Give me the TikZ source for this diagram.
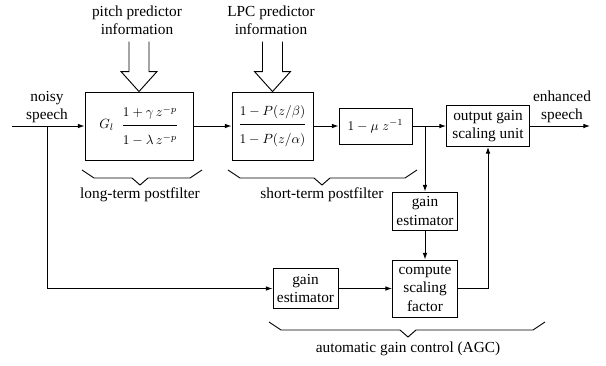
\documentclass[tikz,border=0pt]{standalone}
\usepackage{amsmath}
\usepackage{fontspec}
\setmainfont{Liberation Serif}
\usetikzlibrary{arrows.meta,calc}
\tikzset{node distance=2.0cm, auto,
  block/.style={draw, line width=0.7pt, inner sep=0pt, align=center,
    font=\fontsize{11.5}{13.8}\selectfont},
  sig/.style={-{Latex[length=5pt,width=3.5pt]}, line width=0.7pt},
  lbl/.style={align=center, font=\fontsize{11.5}{13.8}\selectfont},
  formula/.style={block, font=\fontsize{10}{12}\selectfont}}
\newcommand{\nstrut}{\rule[-5pt]{0pt}{0pt}}
\newcommand{\dstrut}{\rule{0pt}{13pt}}

\begin{document}
\begin{tikzpicture}[x=0.75pt, y=-0.75pt]
\useasboundingbox (0,0) rectangle (606,365);

% postfilter chain
\node[formula, minimum width=81pt, minimum height=51pt] (longpf) at (139,126)
  {$G_l\;\;\dfrac{1+\gamma\, z^{-p}\nstrut}{\dstrut 1-\lambda\, z^{-p}}$};
\node[formula, minimum width=60.75pt, minimum height=51pt] (shortpf) at (272.5,126)
  {$\dfrac{1-P(z/\beta)\nstrut}{\dstrut 1-P(z/\alpha)}$};
\node[formula, minimum width=54.75pt, minimum height=27pt] (tilt) at (375.5,126)
  {$1-\mu\; z^{-1}$};
\node[block, minimum width=62.25pt, minimum height=30.75pt] (outgain) at (488,126)
  {output gain\\scaling unit};

% AGC
\node[block, minimum width=48.75pt, minimum height=28.5pt] (gainout) at (425,211)
  {gain\\estimator};
\node[block, minimum width=48.75pt, minimum height=42.75pt] (scale) at (425,288.5)
  {compute\\scaling\\factor};
\node[block, minimum width=48.75pt, minimum height=30pt] (gainin) at (305.5,288.5)
  {gain\\estimator};

% texts
\node[lbl] (pitch) at (137,20) {pitch predictor\\information};
\node[lbl] (lpc) at (271,20) {LPC predictor\\information};
\node[lbl] (noisy) at (47,107) {noisy\\speech};
\node[lbl] (enh) at (562,107) {enhanced\\speech};
\node[lbl] (ltlabel) at (140,195) {long-term postfilter};
\node[lbl] (stlabel) at (322,195) {short-term postfilter};
\node[lbl] (agclabel) at (408,349) {automatic gain control (AGC)};

\coordinate (in) at (12,126);
\coordinate (split) at (47,126);
\coordinate (tap) at (425,126);
\coordinate (out) at (590,126);

\draw[sig] (in) -- (longpf.west);
\draw[sig] (longpf) -- (shortpf);
\draw[sig] (shortpf) -- (tilt);
\draw[sig] (tilt) -- (outgain);
\draw[sig] (outgain.east) -- (out);
\draw[sig] (split) |- (gainin.west);
\draw[sig] (tap) -- (gainout.north);
\draw[sig] (gainout) -- (scale);
\draw[sig] (gainin) -- (scale);
\draw[sig] (scale.east) -| (outgain.south);

% side information arrows
\foreach \b in {longpf,shortpf}
  \draw[line width=0.7pt] ($(\b.north)+(-10,-50)$) -- ++(0,30) -- ++(-8,0)
    -- (\b.north) -- ++(18,-20) -- ++(-8,0) -- ++(0,-30);

% braces
\foreach \a/\m/\c/\y in {82/140/202/170, 228/322/417/170, 269/408/545/322}
  \draw[line width=0.7pt] (\a,\y) -- (\a+12,\y+8) -- (\m-8,\y+8) -- (\m,\y+15)
    -- (\m+8,\y+8) -- (\c-12,\y+8) -- (\c,\y);
\end{tikzpicture}
\end{document}
